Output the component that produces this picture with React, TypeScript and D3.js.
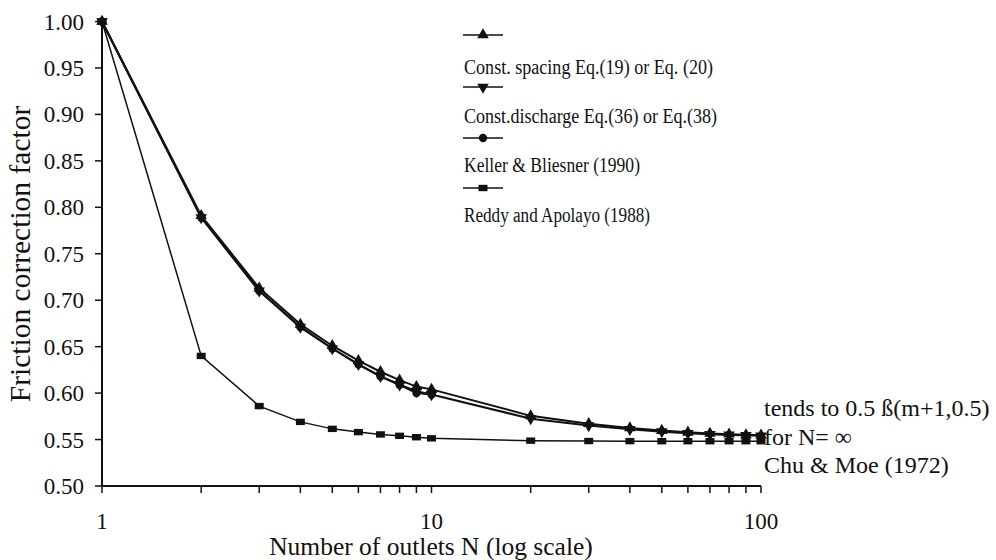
import React from "react";
import * as d3 from "d3";

const outlets = [1, 2, 3, 4, 5, 6, 7, 8, 9, 10, 20, 30, 40, 50, 60, 70, 80, 90, 100];
const constSpacing = [1.0, 0.791, 0.713, 0.674, 0.651, 0.635, 0.623, 0.614, 0.607, 0.604, 0.5755, 0.567, 0.5625, 0.5597, 0.5578, 0.5565, 0.5557, 0.5551, 0.5547];
const constDischarge = [1.0, 0.789, 0.71, 0.671, 0.648, 0.631, 0.618, 0.609, 0.602, 0.5985, 0.5725, 0.565, 0.561, 0.5585, 0.5567, 0.5557, 0.555, 0.5545, 0.5541];
const kellerOutlets = [1, 2, 3, 4, 5, 6, 7, 8, 9, 10];
const kellerBliesner = [1.0, 0.789, 0.71, 0.671, 0.648, 0.631, 0.618, 0.609, 0.6, 0.5985];
const reddyApolayo = [1.0, 0.64, 0.586, 0.569, 0.5615, 0.558, 0.5555, 0.554, 0.5525, 0.5513, 0.5488, 0.5484, 0.5483, 0.5482, 0.5482, 0.5482, 0.5482, 0.5482, 0.5482];

const yTicks = [0.5, 0.55, 0.6, 0.65, 0.7, 0.75, 0.8, 0.85, 0.9, 0.95, 1.0];
const xTickLabels = [1, 10, 100];
const xMinorTicks = [1, 2, 3, 4, 5, 6, 7, 8, 9, 10, 20, 30, 40, 50, 60, 70, 80, 90, 100];

const legendLabels = [
  "Const. spacing Eq.(19) or Eq. (20)",
  "Const.discharge Eq.(36) or Eq.(38)",
  "Keller & Bliesner (1990)",
  "Reddy and Apolayo (1988)",
];
const noteLines = ["tends to 0.5 ß(m+1,0.5)", "for N= ∞", "Chu & Moe (1972)"];

const FONT = "Liberation Serif, Times New Roman, DejaVu Serif, serif";
const st = (size: number): React.CSSProperties => ({ fontFamily: FONT, fontSize: size });

const legendMarkerY = [35, 87, 138, 188];
const legendTextY = [74, 123, 172, 222];
const legendTextLen = [249, 253, 176, 186];

export default function App() {
  const x = d3.scaleLog().domain([1, 100]).range([102, 761]);
  const y = d3.scaleLinear().domain([0.5, 1.0]).range([486, 21.5]);

  const line = (xs: number[], ys: number[]) =>
    d3
      .line<number>()
      .x((_, i) => x(xs[i]))
      .y((d) => y(d))(ys) || "";

  const triUp = d3.symbol(d3.symbolTriangle, 58)() || "";
  const sq = "M-4.5,-3.2h9v6.4h-9Z";
  const circ = d3.symbol(d3.symbolCircle, 55)() || "";

  const series = [
    { xs: outlets, ys: constSpacing, sym: triUp, rot: 0, w: 2 },
    { xs: outlets, ys: constDischarge, sym: triUp, rot: 180, w: 2 },
    { xs: kellerOutlets, ys: kellerBliesner, sym: circ, rot: 0, w: 2 },
    { xs: outlets, ys: reddyApolayo, sym: sq, rot: 0, w: 1.5 },
  ];

  return (
    <svg
      width={996}
      height={560}
      style={{ position: "absolute", left: 0, top: 0, background: "#fff" }}
    >
      <rect width={996} height={560} fill="#fff" />
      <line x1={102} x2={102} y1={y(1)} y2={y(0.5)} stroke="#111" strokeWidth={2} />
      <line x1={102} x2={x(100)} y1={y(0.5)} y2={y(0.5)} stroke="#111" strokeWidth={2} />
      {yTicks.map((t) => (
        <g key={t}>
          <line x1={95} x2={102} y1={y(t)} y2={y(t)} stroke="#111" strokeWidth={1.5} />
          <text x={84} y={y(t)} dy="0.35em" textAnchor="end" style={st(23)} fill="#111">
            {t.toFixed(2)}
          </text>
        </g>
      ))}
      {xMinorTicks.map((t) => (
        <line key={t} x1={x(t)} x2={x(t)} y1={y(0.5)} y2={y(0.5) + 7} stroke="#111" strokeWidth={1.5} />
      ))}
      {xTickLabels.map((t) => (
        <text key={t} x={x(t)} y={529} textAnchor="middle" style={st(23)} fill="#111">
          {t}
        </text>
      ))}
      <text x={431} y={555} textAnchor="middle" style={st(25.5)} fill="#111">
        Number of outlets N (log scale)
      </text>
      <text transform="translate(30,254) rotate(-90)" textAnchor="middle" style={st(29.5)} fill="#111">
        Friction correction factor
      </text>

      {series.map((s, si) => (
        <g key={si}>
          <path d={line(s.xs, s.ys)} fill="none" stroke="#111" strokeWidth={s.w} />
          {s.ys.map((v, i) => (
            <path
              key={i}
              d={s.sym}
              transform={`translate(${x(s.xs[i])},${y(v)}) rotate(${s.rot})`}
              fill="#111"
            />
          ))}
        </g>
      ))}

      {legendLabels.map((lab, i) => {
        const s = series[i];
        const my = legendMarkerY[i];
        return (
          <g key={lab}>
            <line x1={463} x2={503} y1={my} y2={my} stroke="#111" strokeWidth={1.5} />
            <path d={s.sym} transform={`translate(483,${my}) rotate(${s.rot})`} fill="#111" />
            <text
              x={464}
              y={legendTextY[i]}
              style={st(20)}
              textLength={legendTextLen[i]}
              lengthAdjust="spacingAndGlyphs"
              fill="#111"
            >
              {lab}
            </text>
          </g>
        );
      })}

      {noteLines.map((t, i) => (
        <text key={t} x={764} y={416 + i * 28.5} style={st(24)} fill="#111">
          {t}
        </text>
      ))}
    </svg>
  );
}
